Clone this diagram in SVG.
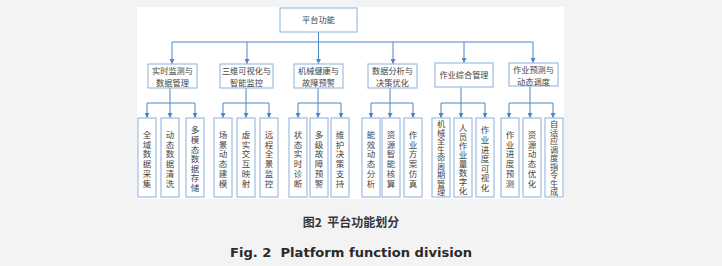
<svg xmlns="http://www.w3.org/2000/svg" width="722" height="266" viewBox="0 0 722 266">
<defs>
<style>
.bg{fill:#f3f3f3}
.panel{fill:#ffffff}
.box{fill:#ffffff;stroke:#9fbde0;stroke-width:1.2}
.ln{fill:none;stroke:#4f86c6;stroke-width:1}
.t{font-family:"Noto Sans CJK SC","Liberation Sans",sans-serif;font-size:8.2px;fill:#444;text-anchor:middle}
.v{font-family:"Noto Sans CJK SC","Liberation Sans",sans-serif;font-size:8.5px;fill:#444;text-anchor:middle}
.v9{font-size:8.2px}
.cap{font-family:"Noto Sans CJK SC","DejaVu Sans",sans-serif;font-weight:bold;font-size:12px;fill:#333;text-anchor:middle;white-space:pre}
.capen{font-family:"DejaVu Sans","Liberation Sans",sans-serif;font-weight:bold;font-size:12.5px;fill:#2a2a2a;text-anchor:middle;white-space:pre}
</style>
<marker id="ar" markerUnits="userSpaceOnUse" markerWidth="6" markerHeight="5" refX="5" refY="2.5" orient="auto">
<path d="M0,0 L5,2.5 L0,5 Z" fill="#4f86c6"/>
</marker>
</defs>
<rect class="bg" x="0" y="0" width="722" height="266"/>
<rect class="panel" x="137" y="7" width="427" height="192"/>

<g id="connectors">
<path class="ln" d="M318.5,32 V42 M172,42 H533"/>
<path class="ln" marker-end="url(#ar)" d="M172,42 V64"/>
<path class="ln" marker-end="url(#ar)" d="M247,42 V64"/>
<path class="ln" marker-end="url(#ar)" d="M318.5,42 V64"/>
<path class="ln" marker-end="url(#ar)" d="M393,42 V64"/>
<path class="ln" marker-end="url(#ar)" d="M464,42 V63"/>
<path class="ln" marker-end="url(#ar)" d="M533,42 V63"/>

<path class="ln" d="M170,88 V103 M147,103 H195"/>
<path class="ln" marker-end="url(#ar)" d="M147,103 V118"/>
<path class="ln" marker-end="url(#ar)" d="M170,103 V118"/>
<path class="ln" marker-end="url(#ar)" d="M195,103 V118"/>

<path class="ln" d="M246,88 V103 M223,103 H269"/>
<path class="ln" marker-end="url(#ar)" d="M223,103 V118"/>
<path class="ln" marker-end="url(#ar)" d="M246,103 V118"/>
<path class="ln" marker-end="url(#ar)" d="M269,103 V118"/>

<path class="ln" d="M318,88 V103 M298,103 H341"/>
<path class="ln" marker-end="url(#ar)" d="M298,103 V118"/>
<path class="ln" marker-end="url(#ar)" d="M318,103 V118"/>
<path class="ln" marker-end="url(#ar)" d="M341,103 V118"/>

<path class="ln" d="M390,88 V103 M371,103 H413"/>
<path class="ln" marker-end="url(#ar)" d="M371,103 V118"/>
<path class="ln" marker-end="url(#ar)" d="M390,103 V118"/>
<path class="ln" marker-end="url(#ar)" d="M413,103 V118"/>

<path class="ln" d="M461,87 V103 M441,103 H485"/>
<path class="ln" marker-end="url(#ar)" d="M441,103 V118"/>
<path class="ln" marker-end="url(#ar)" d="M461,103 V118"/>
<path class="ln" marker-end="url(#ar)" d="M485,103 V118"/>

<path class="ln" d="M530,86 V103 M509,103 H553"/>
<path class="ln" marker-end="url(#ar)" d="M509,103 V118"/>
<path class="ln" marker-end="url(#ar)" d="M530,103 V118"/>
<path class="ln" marker-end="url(#ar)" d="M553,103 V118"/>
</g>

<g id="root"><rect class="box" x="280" y="8" width="77" height="24"/><text class="t" x="318.5" y="23">平台功能</text></g>

<g id="n1"><rect class="box" x="148" y="64" width="49" height="24"/><text class="t" x="172.5" y="74">实时监测与</text><text class="t" x="172.5" y="85.5">数据管理</text></g>
<g id="n2"><rect class="box" x="220" y="64" width="53" height="24"/><text class="t" x="246.5" y="74">三维可视化与</text><text class="t" x="246.5" y="85.5">智能监控</text></g>
<g id="n3"><rect class="box" x="294" y="64" width="49" height="24"/><text class="t" x="318.5" y="74">机械健康与</text><text class="t" x="318.5" y="85.5">故障预警</text></g>
<g id="n4"><rect class="box" x="368" y="64" width="49" height="24"/><text class="t" x="392.5" y="74">数据分析与</text><text class="t" x="392.5" y="85.5">决策优化</text></g>
<g id="n5"><rect class="box" x="435" y="63" width="58" height="24"/><text class="t" x="464" y="78">作业综合管理</text></g>
<g id="n6"><rect class="box" x="509" y="63" width="49" height="23"/><text class="t" x="533.5" y="73">作业预测与</text><text class="t" x="533.5" y="84.5">动态调度</text></g>

<g id="l1a"><rect class="box" x="138" y="118" width="18" height="79"/><text class="v"><tspan x="147" y="137.7">全</tspan><tspan x="147" y="147.5">域</tspan><tspan x="147" y="157.3">数</tspan><tspan x="147" y="167.1">据</tspan><tspan x="147" y="176.9">采</tspan><tspan x="147" y="186.7">集</tspan></text></g>
<g id="l1b"><rect class="box" x="161" y="118" width="18" height="79"/><text class="v"><tspan x="170" y="137.7">动</tspan><tspan x="170" y="147.5">态</tspan><tspan x="170" y="157.3">数</tspan><tspan x="170" y="167.1">据</tspan><tspan x="170" y="176.9">清</tspan><tspan x="170" y="186.7">洗</tspan></text></g>
<g id="l1c"><rect class="box" x="186" y="118" width="18" height="79"/><text class="v"><tspan x="195" y="133.4">多</tspan><tspan x="195" y="143">模</tspan><tspan x="195" y="152.6">态</tspan><tspan x="195" y="162.2">数</tspan><tspan x="195" y="171.8">据</tspan><tspan x="195" y="181.4">存</tspan><tspan x="195" y="191">储</tspan></text></g>

<g id="l2a"><rect class="box" x="214" y="118" width="18" height="79"/><text class="v"><tspan x="223" y="137.7">场</tspan><tspan x="223" y="147.5">景</tspan><tspan x="223" y="157.3">动</tspan><tspan x="223" y="167.1">态</tspan><tspan x="223" y="176.9">建</tspan><tspan x="223" y="186.7">模</tspan></text></g>
<g id="l2b"><rect class="box" x="237" y="118" width="18" height="79"/><text class="v"><tspan x="246" y="137.7">虚</tspan><tspan x="246" y="147.5">实</tspan><tspan x="246" y="157.3">交</tspan><tspan x="246" y="167.1">互</tspan><tspan x="246" y="176.9">映</tspan><tspan x="246" y="186.7">射</tspan></text></g>
<g id="l2c"><rect class="box" x="260" y="118" width="18" height="79"/><text class="v"><tspan x="269" y="137.7">远</tspan><tspan x="269" y="147.5">程</tspan><tspan x="269" y="157.3">全</tspan><tspan x="269" y="167.1">景</tspan><tspan x="269" y="176.9">监</tspan><tspan x="269" y="186.7">控</tspan></text></g>

<g id="l3a"><rect class="box" x="289" y="118" width="18" height="79"/><text class="v"><tspan x="298" y="137.7">状</tspan><tspan x="298" y="147.5">态</tspan><tspan x="298" y="157.3">实</tspan><tspan x="298" y="167.1">时</tspan><tspan x="298" y="176.9">诊</tspan><tspan x="298" y="186.7">断</tspan></text></g>
<g id="l3b"><rect class="box" x="310" y="118" width="18" height="79"/><text class="v"><tspan x="319" y="137.7">多</tspan><tspan x="319" y="147.5">级</tspan><tspan x="319" y="157.3">故</tspan><tspan x="319" y="167.1">障</tspan><tspan x="319" y="176.9">预</tspan><tspan x="319" y="186.7">警</tspan></text></g>
<g id="l3c"><rect class="box" x="331" y="118" width="18" height="79"/><text class="v"><tspan x="340" y="137.7">维</tspan><tspan x="340" y="147.5">护</tspan><tspan x="340" y="157.3">决</tspan><tspan x="340" y="167.1">策</tspan><tspan x="340" y="176.9">支</tspan><tspan x="340" y="186.7">持</tspan></text></g>

<g id="l4a"><rect class="box" x="362" y="118" width="18" height="79"/><text class="v"><tspan x="371" y="137.7">能</tspan><tspan x="371" y="147.5">效</tspan><tspan x="371" y="157.3">动</tspan><tspan x="371" y="167.1">态</tspan><tspan x="371" y="176.9">分</tspan><tspan x="371" y="186.7">析</tspan></text></g>
<g id="l4b"><rect class="box" x="382" y="118" width="18" height="79"/><text class="v"><tspan x="391" y="137.7">资</tspan><tspan x="391" y="147.5">源</tspan><tspan x="391" y="157.3">智</tspan><tspan x="391" y="167.1">能</tspan><tspan x="391" y="176.9">核</tspan><tspan x="391" y="186.7">算</tspan></text></g>
<g id="l4c"><rect class="box" x="404" y="118" width="18" height="79"/><text class="v"><tspan x="413" y="137.7">作</tspan><tspan x="413" y="147.5">业</tspan><tspan x="413" y="157.3">方</tspan><tspan x="413" y="167.1">案</tspan><tspan x="413" y="176.9">仿</tspan><tspan x="413" y="186.7">真</tspan></text></g>

<g id="l5a"><rect class="box" x="432" y="118" width="18" height="79"/><text class="v v9"><tspan x="441" y="127.3">机</tspan><tspan x="441" y="135.8">械</tspan><tspan x="441" y="144.3">全</tspan><tspan x="441" y="152.8">生</tspan><tspan x="441" y="161.3">命</tspan><tspan x="441" y="169.8">周</tspan><tspan x="441" y="178.3">期</tspan><tspan x="441" y="186.8">管</tspan><tspan x="441" y="195.3">理</tspan></text></g>
<g id="l5b"><rect class="box" x="454" y="118" width="18" height="79"/><text class="v"><tspan x="463" y="130.7">人</tspan><tspan x="463" y="139.7">员</tspan><tspan x="463" y="148.7">作</tspan><tspan x="463" y="157.7">业</tspan><tspan x="463" y="166.7">量</tspan><tspan x="463" y="175.7">数</tspan><tspan x="463" y="184.7">字</tspan><tspan x="463" y="193.7">化</tspan></text></g>
<g id="l5c"><rect class="box" x="476" y="118" width="18" height="79"/><text class="v"><tspan x="485" y="133.4">作</tspan><tspan x="485" y="143">业</tspan><tspan x="485" y="152.6">进</tspan><tspan x="485" y="162.2">度</tspan><tspan x="485" y="171.8">可</tspan><tspan x="485" y="181.4">视</tspan><tspan x="485" y="191">化</tspan></text></g>

<g id="l6a"><rect class="box" x="501" y="118" width="18" height="79"/><text class="v"><tspan x="510" y="137.7">作</tspan><tspan x="510" y="147.5">业</tspan><tspan x="510" y="157.3">进</tspan><tspan x="510" y="167.1">度</tspan><tspan x="510" y="176.9">预</tspan><tspan x="510" y="186.7">测</tspan></text></g>
<g id="l6b"><rect class="box" x="523" y="118" width="18" height="79"/><text class="v"><tspan x="532" y="137.7">资</tspan><tspan x="532" y="147.5">源</tspan><tspan x="532" y="157.3">动</tspan><tspan x="532" y="167.1">态</tspan><tspan x="532" y="176.9">优</tspan><tspan x="532" y="186.7">化</tspan></text></g>
<g id="l6c"><rect class="box" x="545" y="118" width="18" height="79"/><text class="v v9"><tspan x="554" y="127.3">自</tspan><tspan x="554" y="135.8">适</tspan><tspan x="554" y="144.3">应</tspan><tspan x="554" y="152.8">调</tspan><tspan x="554" y="161.3">度</tspan><tspan x="554" y="169.8">指</tspan><tspan x="554" y="178.3">令</tspan><tspan x="554" y="186.8">生</tspan><tspan x="554" y="195.3">成</tspan></text></g>

<text class="cap" x="351" y="227" xml:space="preserve">图2  平台功能划分</text>
<text class="capen" x="351" y="257" textLength="242" lengthAdjust="spacingAndGlyphs" xml:space="preserve">Fig. 2  Platform function division</text>
</svg>
